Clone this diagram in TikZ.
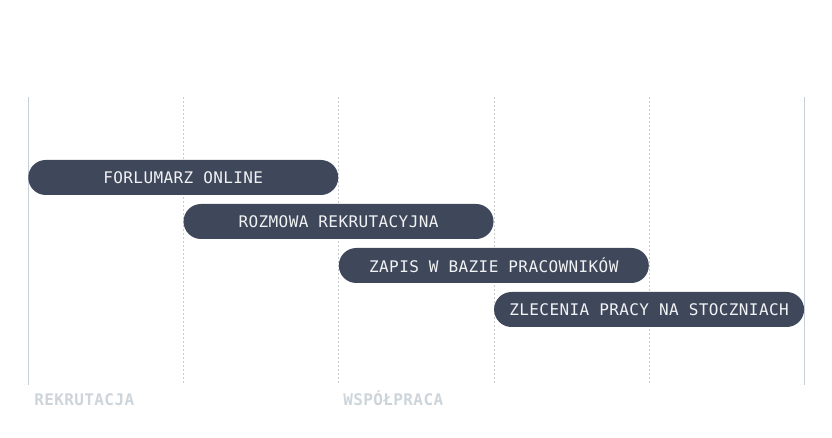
\documentclass[tikz,border=0pt]{standalone}
\usepackage{fontspec}
\setmonofont[LetterSpace=2.5]{DejaVu Sans Mono}
\usepackage{xcolor}
\usetikzlibrary{positioning,calc}
\definecolor{slate}{RGB}{63,71,90}
\definecolor{frost}{RGB}{197,208,216}
\definecolor{mist}{RGB}{200,203,206}
\definecolor{fog}{RGB}{205,213,218}
\newcommand{\phasetext}[1]{{\fontsize{12}{14}\selectfont\ttfamily\bfseries\color{fog}#1}}

\begin{document}
\begin{tikzpicture}[
  x=0.75pt,y=-0.75pt,
  stage/.style={rectangle,rounded corners=13.1pt,fill=slate,inner sep=0pt,
    minimum width=232.5pt,minimum height=26.25pt,anchor=west,
    font=\fontsize{12}{14}\ttfamily\selectfont,text=white!93!slate},
  phase/.style={inner sep=0pt,anchor=base west}
]
\useasboundingbox (0,0) rectangle (832,438);
% grid
\draw[frost,line width=0.75pt] (28,97) -- (28,385);
\draw[frost,line width=0.75pt] (804,97) -- (804,385);
\foreach \gx in {183,338,494,649}
  \draw[mist,line width=0.6pt,dash pattern=on 1.5pt off 1.5pt] (\gx,97) -- (\gx,385);
% stages
\node[stage] (s1) at (28,177.5) {FORLUMARZ ONLINE};
\node[stage] (s2) at ($(s1.center)+(0,44)$) {ROZMOWA REKRUTACYJNA};
\node[stage] (s3) at ($(s2.center)+(0,44)$) {ZAPIS W BAZIE PRACOWNIKÓW};
\node[stage] (s4) at ($(s3.center)+(0,44)$) {ZLECENIA PRACY NA STOCZNIACH};
% phases
\node[phase] (p1) at (34,405) {\phasetext{REKRUTACJA}};
\node[phase] (p2) at (343,405) {\phasetext{WSPÓŁPRACA}};
\end{tikzpicture}
\end{document}
